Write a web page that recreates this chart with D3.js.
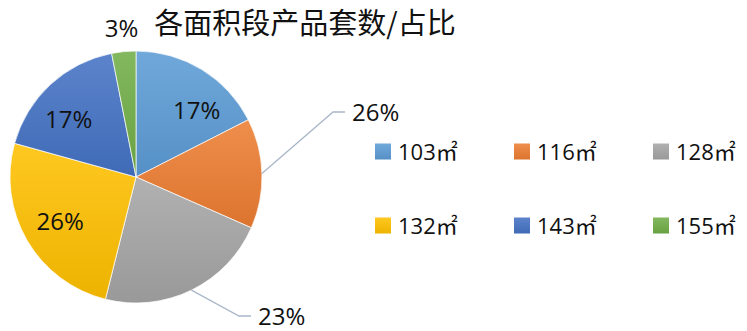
<!DOCTYPE html>
<html>
<head>
<meta charset="utf-8">
<script src="https://cdn.jsdelivr.net/npm/d3@7/dist/d3.min.js"></script>
<style>
  html, body { margin: 0; padding: 0; background: #fff; }
  svg { display: block; }
  text { font-family: "Open Sans", "Noto Sans CJK SC", sans-serif; fill: #111; }
</style>
</head>
<body>
<svg id="chart" width="747" height="331"></svg>
<script>
// Area bands (legend entries)
const categories = ["103㎡", "116㎡", "128㎡", "132㎡", "143㎡", "155㎡"];
// Share of units per band (slice sizes)
const shares = [17.5, 14.1, 22.3, 25.4, 17.6, 3.1];
// Percentage labels as printed on the chart
const shareLabels = ["17%", "26%", "23%", "26%", "17%", "3%"];
const colors = ["#5B9BD5", "#ED7D31", "#A5A5A5", "#FFC000", "#4472C4", "#70AD47"];
const title = "各面积段产品套数/占比";

const svg = d3.select("#chart");
const cx = 136, cy = 177, R = 126;

// Vertical light-to-dark gradient per colour, like the office-style fill
const defs = svg.append("defs");
colors.forEach((c, i) => {
  const g = defs.append("linearGradient")
    .attr("id", "grad" + i)
    .attr("x1", 0).attr("y1", 0).attr("x2", 0).attr("y2", 1);
  g.append("stop").attr("offset", "0%").attr("stop-color", d3.interpolateRgb(c, "#fff")(0.13));
  g.append("stop").attr("offset", "100%").attr("stop-color", d3.interpolateRgb(c, "#000")(0.07));
});

const pie = d3.pie().sort(null).value(d => d.value);
const arcs = pie(shares.map((v, i) => ({ value: v, i })));
const arc = d3.arc().innerRadius(0).outerRadius(R);

const g = svg.append("g").attr("transform", `translate(${cx},${cy})`);
g.selectAll("path.slice")
  .data(arcs)
  .join("path")
  .attr("class", "slice")
  .attr("d", arc)
  .attr("fill", d => `url(#grad${d.data.i})`)
  .attr("stroke", "#fff")
  .attr("stroke-width", 0.7);

// Label placement: inside labels sit at a radius fraction with an angular nudge;
// outside labels use a leader line with an elbow.
const labelPlacement = [
  { mode: "in", r: 0.712, nudge: 11 },
  { mode: "leader", elbow: [197, -65], tail: 12 },
  { mode: "leader", elbow: [103, 139], tail: 12 },
  { mode: "in", r: 0.697, nudge: 0 },
  { mode: "in", r: 0.705, nudge: -6.5 },
  { mode: "out", r: 1.185 }
];
const FS = 24, capOff = FS * 0.357;

arcs.forEach((d, k) => {
  const p = labelPlacement[k];
  const mid = (d.startAngle + d.endAngle) / 2;
  if (p.mode === "in" || p.mode === "out") {
    const a = mid + (p.nudge || 0) * Math.PI / 180;
    const rr = p.r * R;
    g.append("text")
      .attr("x", rr * Math.sin(a))
      .attr("y", -rr * Math.cos(a) + capOff)
      .attr("text-anchor", "middle")
      .style("font-size", FS + "px")
      .text(shareLabels[k]);
  } else {
    const sx = R * Math.sin(mid), sy = -R * Math.cos(mid);
    const [ex, ey] = p.elbow;
    g.append("polyline")
      .attr("points", `${sx},${sy} ${ex},${ey} ${ex + p.tail},${ey}`)
      .attr("fill", "none")
      .attr("stroke", "#a9b7c9")
      .attr("stroke-width", 1.3);
    g.append("text")
      .attr("x", ex + p.tail + 7)
      .attr("y", ey + capOff)
      .attr("text-anchor", "start")
      .style("font-size", FS + "px")
      .text(shareLabels[k]);
  }
});

// Title
svg.append("text")
  .attr("x", 305)
  .attr("y", 34)
  .attr("text-anchor", "middle")
  .style("font-family", "'Noto Sans CJK SC', sans-serif")
  .style("font-size", "29px")
  .text(title);

// Legend: 3 columns x 2 rows
const legX = d3.scalePoint().domain([0, 1, 2]).range([375, 653]);
const legY = d3.scalePoint().domain([0, 1]).range([151.5, 225.5]);
const SQ = 16;
const leg = svg.append("g");
categories.forEach((name, i) => {
  const col = i % 3, row = Math.floor(i / 3);
  const x = legX(col), y = legY(row);
  leg.append("rect")
    .attr("x", x).attr("y", y - SQ / 2)
    .attr("width", SQ).attr("height", SQ)
    .attr("fill", `url(#grad${i})`);
  leg.append("text")
    .attr("x", x + SQ + 7)
    .attr("y", y + 8)
    .style("font-size", "22px")
    .text(name);
});
</script>
</body>
</html>
